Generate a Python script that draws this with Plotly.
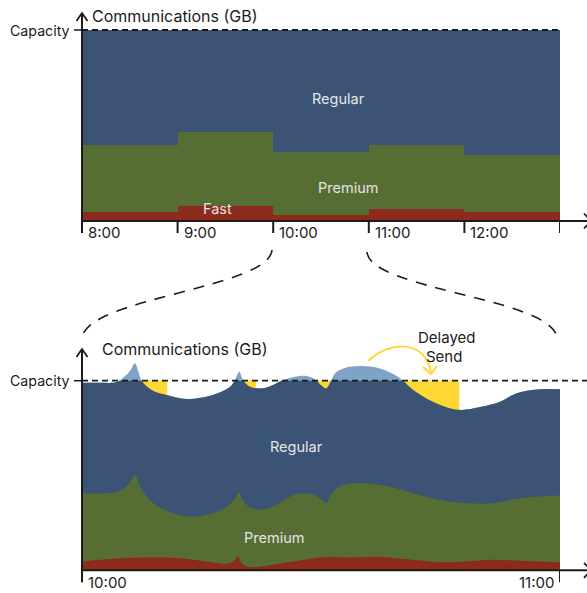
import plotly.graph_objects as go

# ---------------- data ----------------
CAPACITY = 100  # GB, link capacity

# Hourly view (8:00-13:00), stacked GB per class
hours = [8, 9, 10, 11, 12]
hour_labels = ["8:00", "9:00", "10:00", "11:00", "12:00"]
fast_gb = [4.7, 8.0, 3.1, 6.3, 4.9]
premium_gb = [35.1, 38.4, 33.2, 33.3, 29.7]
regular_gb = [60.2, 53.6, 63.7, 60.4, 65.4]

# Zoomed view 10:00-11:00 (minutes after 10:00), stacked levels
total_t = [0.0, 2.26, 4.36, 5.27, 6.02, 6.65, 7.09, 7.49, 8.75, 10.63, 13.14, 16.44,
           18.58, 19.2, 19.74, 20.21, 21.09, 22.72, 23.97, 25.23, 27.36, 28.2, 29.25,
           30.0, 30.63, 31.13, 31.76, 32.8, 34.89, 37.4, 39.5, 40.33, 41.58, 44.06,
           46.19, 47.66, 49.96, 52.47, 54.56, 57.49, 60.0]
total_level = [98.9, 98.9, 99.3, 101.9, 105.1, 109.2, 104.6, 100.0, 95.1, 92.5, 90.4, 92.5,
               96.8, 100.4, 104.7, 100.4, 96.8, 96.0, 97.7, 100.4, 102.5, 102.5, 100.7,
               97.7, 96.0, 98.8, 103.9, 106.5, 107.7, 106.5, 102.5, 99.8, 95.1, 88.9,
               85.5, 84.6, 86.1, 88.9, 93.4, 95.5, 95.5]

premium_t = [0.0, 3.51, 5.02, 5.9, 6.65, 7.28, 8.03, 8.95, 11.42, 13.93, 16.44, 18.16,
             19.08, 19.74, 20.08, 20.67, 22.34, 24.01, 25.69, 27.36, 29.03, 30.12, 30.71,
             31.13, 31.76, 33.22, 35.31, 38.24, 41.58, 44.94, 48.29, 51.63, 54.98, 60.0]
premium_level = [40.7, 40.7, 42.4, 45.6, 50.3, 44.2, 39.3, 35.4, 30.1, 28.3, 30.1, 33.6,
                 37.1, 41.0, 37.7, 34.5, 31.9, 33.6, 38.0, 40.7, 39.8, 37.1, 35.4,
                 38.7, 42.4, 45.6, 45.9, 44.5, 40.7, 37.1, 35.4, 35.4, 38.0, 39.4]

fast_t = [0.0, 3.93, 8.12, 12.3, 15.65, 18.16, 18.95, 19.62, 19.96, 20.25, 21.09, 23.18,
          26.52, 30.71, 33.22, 37.4, 41.58, 44.94, 48.29, 51.63, 54.98, 60.0]
fast_level = [4.6, 6.1, 6.7, 6.4, 4.6, 3.4, 4.7, 7.3, 4.5, 2.9, 1.7, 2.4,
              4.6, 7.0, 6.7, 7.0, 5.5, 4.3, 4.6, 5.5, 5.0, 4.3]

# Windows (minutes) where overflow is sent later, below capacity
delayed_windows = [(6.65, 10.7), (19.74, 21.84), (29.0, 31.8), (40.0, 47.36)]

zoom_labels = ["10:00", "11:00"]

# ---------------- styling ----------------
W, H = 587, 593
FONT = "Inter"
INK = "#1b1b1b"
C_REG = "#3b5475"
C_PREM = "#566e34"
C_FAST = "#8c2a1e"
C_OVER = "#7fa2c8"
C_DELAY = "#fdd835"
C_LABEL = "#e4e4e4"


def fx(px):
    return px / W


def fy(py):
    return 1 - py / H


# pixel frame of each panel
X0, X1 = 82, 560
TOP_BASE, TOP_CAP, TOP_TOP = 221, 30, 5
BOT_BASE, BOT_CAP, BOT_TOP = 570.3, 380.7, 340

fig = go.Figure()

# ---- hourly panel: stacked blocks ----
for vals, col in [(fast_gb, C_FAST), (premium_gb, C_PREM), (regular_gb, C_REG)]:
    fig.add_trace(go.Bar(x=hours, y=vals, width=1, offset=0, marker=dict(color=col, line=dict(width=0)),
                         xaxis="x", yaxis="y", hoverinfo="skip"))

# ---- zoomed panel, full height: overflow above capacity + delayed fill ----
fig.add_trace(go.Scatter(x=total_t, y=total_level, mode="lines", line=dict(width=0, shape="spline"),
                         fill="tozeroy", fillcolor=C_OVER, xaxis="x2", yaxis="y2", hoverinfo="skip"))
for a, b in delayed_windows:
    fig.add_trace(go.Scatter(x=[a, a, b, b], y=[0, CAPACITY, CAPACITY, 0], mode="lines",
                             line=dict(width=0), fill="toself", fillcolor=C_DELAY,
                             xaxis="x2", yaxis="y2", hoverinfo="skip"))

# ---- zoomed panel, clipped at capacity: served traffic per class ----
for t, lv, col in [(total_t, total_level, C_REG), (premium_t, premium_level, C_PREM),
                   (fast_t, fast_level, C_FAST)]:
    fig.add_trace(go.Scatter(x=t, y=lv, mode="lines", line=dict(width=0, shape="spline"),
                             fill="tozeroy", fillcolor=col, xaxis="x3", yaxis="y3", hoverinfo="skip"))

hidden = dict(visible=False, fixedrange=True)
top_scale = CAPACITY / (TOP_BASE - TOP_CAP)
bot_scale = CAPACITY / (BOT_BASE - BOT_CAP)
fig.update_layout(
    width=W, height=H, margin=dict(l=0, r=0, t=0, b=0),
    paper_bgcolor="white", plot_bgcolor="rgba(0,0,0,0)",
    showlegend=False, barmode="stack", bargap=0,
    font=dict(family=FONT, color=INK, size=15),
    xaxis=dict(domain=[fx(X0), fx(X1)], range=[8, 13], **hidden),
    yaxis=dict(domain=[fy(TOP_BASE), fy(TOP_TOP)], range=[0, (TOP_BASE - TOP_TOP) * top_scale], **hidden),
    xaxis2=dict(domain=[fx(X0), fx(X1)], range=[0, 60], **hidden),
    yaxis2=dict(domain=[fy(BOT_BASE), fy(BOT_TOP)], range=[0, (BOT_BASE - BOT_TOP) * bot_scale], **hidden),
    xaxis3=dict(domain=[fx(X0), fx(X1)], range=[0, 60], **hidden),
    yaxis3=dict(domain=[fy(BOT_BASE), fy(BOT_CAP)], range=[0, CAPACITY], **hidden),
)

shapes = []
ann = []


def seg(x0, y0, x1, y1, color=INK, width=2, dash=None):
    shapes.append(dict(type="line", xref="paper", yref="paper", x0=fx(x0), y0=fy(y0), x1=fx(x1), y1=fy(y1),
                       line=dict(color=color, width=width, dash=dash), layer="above"))


def path(points, color=INK, width=2, dash=None, curve=False):
    p = [f"{fx(x):.5f},{fy(y):.5f}" for x, y in points]
    if curve:
        d = f"M {p[0]} C {p[1]} {p[2]} {p[3]}"
    else:
        d = "M " + " L ".join(p)
    shapes.append(dict(type="path", xref="paper", yref="paper", path=d,
                       line=dict(color=color, width=width, dash=dash), layer="above"))


def text(s, x, y, xanchor="center", size=15, color=INK):
    ann.append(dict(text=s, x=fx(x), y=fy(y), xref="paper", yref="paper", showarrow=False,
                    xanchor=xanchor, yanchor="middle", font=dict(family=FONT, size=size, color=color)))


# capacity lines
shapes.append(dict(type="line", xref="x", yref="y", x0=8, x1=13, y0=CAPACITY, y1=CAPACITY,
                   line=dict(color=INK, width=1.8, dash="6px,4px"), layer="above"))
shapes.append(dict(type="line", xref="paper", yref="y2", x0=fx(X0), x1=1, y0=CAPACITY, y1=CAPACITY,
                   line=dict(color=INK, width=1.8, dash="6px,4px"), layer="above"))

# axes for both panels
for base, cap, top_tip, title_x, title_y in [(TOP_BASE, TOP_CAP, 13, 90, 16),
                                            (BOT_BASE, BOT_CAP, 349, 100, 349)]:
    seg(X0, base + 12, X0, top_tip + 1)
    path([(X0 - 5.5, top_tip + 8), (X0, top_tip), (X0 + 5.5, top_tip + 8)], width=1.8)
    seg(X0, base, 587, base)
    path([(584, base - 7.5), (591, base), (584, base + 7.5)], width=1.8)
    seg(X0 - 8, cap, X0, cap, width=1.5)
    text("Capacity", 72, cap, xanchor="right", size=14.2)
    text("Communications (GB)", title_x, title_y, xanchor="left", size=16)

# hourly ticks and labels
for h, lab in zip(hours + [13], hour_labels + [None]):
    shapes.append(dict(type="line", xref="x", yref="paper", x0=h, x1=h, y0=fy(TOP_BASE), y1=fy(TOP_BASE + 12),
                       line=dict(color=INK, width=2), layer="above"))
    if lab:
        ann.append(dict(text=lab, x=h, y=fy(232.5), xref="x", yref="paper", showarrow=False,
                        xanchor="left", yanchor="middle", xshift=4, font=dict(family=FONT, size=15, color=INK)))

# zoom panel ticks and labels
for m, lab, anchor, shift in [(0, zoom_labels[0], "left", 4), (60, zoom_labels[1], "right", -4)]:
    shapes.append(dict(type="line", xref="x2", yref="paper", x0=m, x1=m, y0=fy(BOT_BASE), y1=fy(BOT_BASE + 12),
                       line=dict(color=INK, width=2), layer="above"))
    ann.append(dict(text=lab, x=m, y=fy(582), xref="x2", yref="paper", showarrow=False,
                    xanchor=anchor, yanchor="middle", xshift=shift, font=dict(family=FONT, size=15, color=INK)))

# zoom connector curves
path([(272, 250), (269, 288), (86, 298), (82, 338)], width=1.6, dash="11px,9px", curve=True)
path([(367, 252), (370, 290), (553, 298), (557, 338)], width=1.6, dash="11px,9px", curve=True)

# delayed-send annotation arrow
path([(368, 361), (390, 340), (425, 340), (431, 372)], color=C_DELAY, width=2, curve=True)
path([(423, 367), (431, 374), (437, 366)], color=C_DELAY, width=2)
text("Delayed", 446, 337.5)
text("Send", 444, 356)

# class labels
text("Regular", 338, 99, color=C_LABEL, size=14.5)
text("Premium", 348, 187.5, color=C_LABEL, size=14.5)
text("Fast", 217, 208.5, color=C_LABEL, size=14.5)
text("Regular", 297, 447, color=C_LABEL, size=14.5)
text("Premium", 274, 537.5, color=C_LABEL, size=14.5)

fig.update_layout(shapes=shapes, annotations=ann)
fig.write_html("out.html")
